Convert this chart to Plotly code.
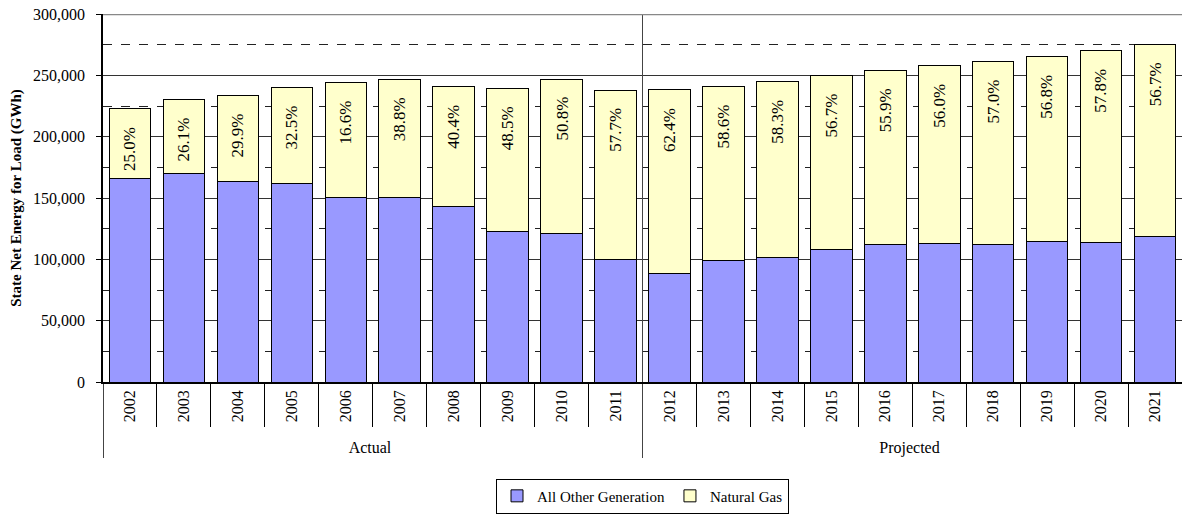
import plotly.graph_objects as go

# Reporting period groups and years
periods = ["Actual"] * 10 + ["Projected"] * 10
years = [str(y) for y in range(2002, 2022)]

# State net energy for load (GWh)
total_load = [222600, 230200, 233500, 240000, 244000, 246500, 240500, 239200, 247000, 237800,
              238400, 241300, 245100, 250200, 254300, 257900, 261400, 265200, 270100, 275400]
other_generation = [166300, 170100, 163300, 161600, 150600, 150300, 142900, 122600, 121300, 100200,
                    88800, 99400, 101800, 108300, 112000, 112900, 111800, 114200, 113400, 118600]
natural_gas = [t - o for t, o in zip(total_load, other_generation)]

# Natural gas share labels
gas_share = ["25.0%", "26.1%", "29.9%", "32.5%", "16.6%", "38.8%", "40.4%", "48.5%", "50.8%", "57.7%",
             "62.4%", "58.6%", "58.3%", "56.7%", "55.9%", "56.0%", "57.0%", "56.8%", "57.8%", "56.7%"]

FONT = "Liberation Serif, Times New Roman, serif"

fig = go.Figure()
fig.add_trace(go.Bar(
    x=[periods, years], y=other_generation, name="All Other Generation",
    marker=dict(color="#9999FF", line=dict(color="black", width=1)),
))
fig.add_trace(go.Bar(
    x=[periods, years], y=natural_gas, name="Natural Gas",
    marker=dict(color="#FFFFCC", line=dict(color="black", width=1)),
))

# Rotated share labels just below the top of each column
for i, (tot, lab) in enumerate(zip(total_load, gas_share)):
    fig.add_annotation(
        x=i, y=tot, xref="x", yref="y", text=lab, textangle=-90, showarrow=False,
        yshift=-40, xanchor="center", yanchor="middle",
        font=dict(family=FONT, size=17, color="black"),
    )

# Divider between actual and projected periods, and the top frame line
fig.add_shape(type="line", xref="paper", yref="paper", x0=0.5, x1=0.5, y0=0, y1=1,
              line=dict(color="#444444", width=1))
fig.add_shape(type="line", xref="paper", yref="y", x0=0, x1=1, y0=300000, y1=300000,
              line=dict(color="#888888", width=2.5))

fig.update_layout(
    width=1182, height=515,
    margin=dict(l=103, r=0, t=13.5, b=132.5),
    barmode="stack", bargap=0.23,
    paper_bgcolor="white", plot_bgcolor="white",
    font=dict(family=FONT, size=16, color="black"),
    showlegend=True,
    legend=dict(
        orientation="h", x=0.5, xanchor="center", y=-0.31, yanchor="middle",
        bordercolor="black", borderwidth=1, bgcolor="white",
        font=dict(family=FONT, size=15, color="black"),
        itemwidth=30, traceorder="normal",
    ),
)
fig.update_yaxes(
    range=[0, 300000], dtick=50000, tickformat=",",
    showline=True, linecolor="black", linewidth=1.5,
    ticks="outside", ticklen=5, tickcolor="black", ticklabelstandoff=8,
    showgrid=True, gridcolor="#333333", gridwidth=1,
    minor=dict(dtick=25000, showgrid=True, gridcolor="#222222", griddash="dash", gridwidth=1),
    zeroline=False,
    title=dict(text="<b>State Net Energy for Load (GWh)</b>", font=dict(family=FONT, size=15), standoff=8),
    tickfont=dict(family=FONT, size=16),
)
fig.update_xaxes(
    type="multicategory", tickangle=-90,
    showline=True, linecolor="black", linewidth=1.5,
    ticks="outside", ticklen=43, tickcolor="black",
    showdividers=True, dividercolor="#444444", dividerwidth=1,
    tickfont=dict(family=FONT, size=16),
    showgrid=False,
)

fig.write_html("out.html")
